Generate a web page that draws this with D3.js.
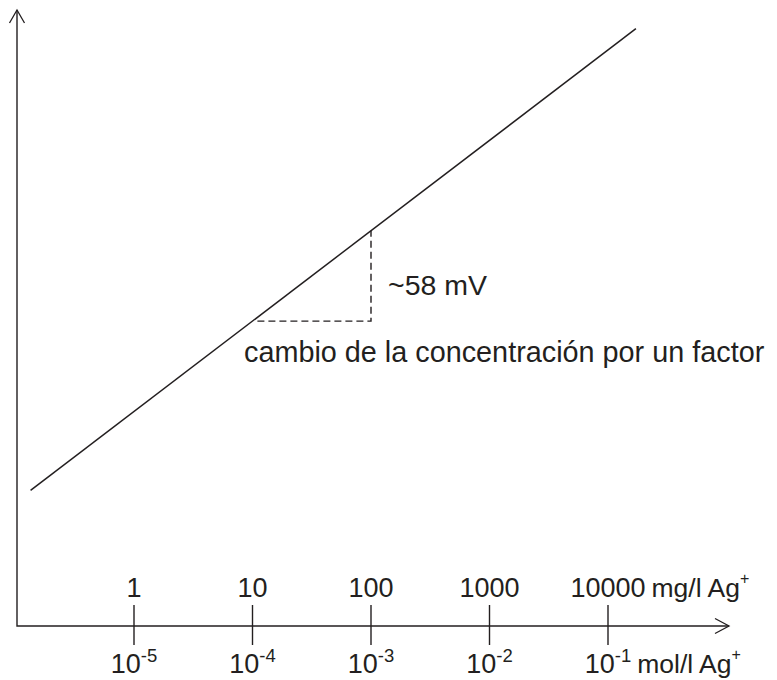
<!DOCTYPE html>
<html>
<head>
<meta charset="utf-8">
<script src="https://cdn.jsdelivr.net/npm/d3@7"></script>
<style>
  html, body { margin: 0; padding: 0; background: #fff; }
  text { font-family: "Liberation Sans", Arial, Helvetica, sans-serif; fill: #231f20; }
</style>
</head>
<body>
<script>
// Silver electrode potential vs. Ag+ concentration (Nernst slope ~58 mV per decade)
const molExponents = [-5, -4, -3, -2, -1];           // mol/l ticks: 10^e
const mgLabels = ["1", "10", "100", "1000", "10000"]; // matching mg/l values
const lineConc = [1.34e-6, 0.172];                    // mol/l at line ends
const linePotential = [87, 383];                      // mV at line ends
const stepConc = [1.1e-4, 1e-3];                      // one-decade step
const stepPotential = [195.5, 253.5];                 // potential before / after the step

const W = 777, H = 680;
const ink = "#231f20";

const svg = d3.select("body").append("svg")
  .attr("width", W).attr("height", H);

const x = d3.scaleLog().domain([1e-5, 1e-1]).range([134, 608]);
const y = d3.scaleLinear().domain([0, 395]).range([626, 10]);

const x0 = 17, axisY = y(0);
const xEnd = 729;

// axes with open arrowheads
svg.append("path")
  .attr("d", `M${x0},${y(395)} V${axisY} H${xEnd}`)
  .attr("fill", "none").attr("stroke", ink).attr("stroke-width", 1.4);
svg.append("path")
  .attr("d", `M${x0 - 7.5},${y(395) + 13} L${x0},${y(395)} L${x0 + 7.5},${y(395) + 13}`)
  .attr("fill", "none").attr("stroke", ink).attr("stroke-width", 1.3);
svg.append("path")
  .attr("d", `M${xEnd - 14},${axisY - 7.5} L${xEnd},${axisY} L${xEnd - 14},${axisY + 7.5}`)
  .attr("fill", "none").attr("stroke", ink).attr("stroke-width", 1.3);

// ticks crossing the x axis
const tickVals = molExponents.map(e => Math.pow(10, e));
svg.selectAll("line.tick").data(tickVals).enter().append("line")
  .attr("class", "tick")
  .attr("x1", d => x(d)).attr("x2", d => x(d))
  .attr("y1", axisY - 21).attr("y2", axisY + 19)
  .attr("stroke", ink).attr("stroke-width", 1.4);

// mg/l labels above the axis
const topLabels = svg.selectAll("text.mg").data(mgLabels).enter().append("text")
  .attr("class", "mg")
  .attr("x", (d, i) => x(tickVals[i]))
  .attr("y", 597)
  .attr("text-anchor", "middle")
  .attr("font-size", 27)
  .text(d => d);

// mol/l labels below the axis
const botLabels = svg.selectAll("text.mol").data(molExponents).enter().append("text")
  .attr("class", "mol")
  .attr("x", (d, i) => x(tickVals[i]))
  .attr("y", 673)
  .attr("text-anchor", "middle")
  .attr("font-size", 27);
botLabels.append("tspan").text("10");
botLabels.append("tspan").attr("font-size", 18.5).attr("dy", -11).text(d => String(d));

// unit suffixes after the last labels
function unitAfter(node, baseY, unit) {
  const bb = node.getBBox();
  const t = svg.append("text")
    .attr("x", bb.x + bb.width + 6).attr("y", baseY)
    .attr("font-size", 26.5);
  t.append("tspan").text(unit);
  t.append("tspan").attr("font-size", 16).attr("dy", -13).text("+");
}
unitAfter(topLabels.nodes()[4], 597, "mg/l Ag");
unitAfter(botLabels.nodes()[4], 673, "mol/l Ag");

// electrode response line
const pts = lineConc.map((c, i) => [c, linePotential[i]]);
svg.append("path")
  .attr("d", d3.line().x(d => x(d[0])).y(d => y(d[1]))(pts))
  .attr("fill", "none").attr("stroke", ink).attr("stroke-width", 1.5);

// dashed step: one decade across, ~58 mV up
const step = [
  [stepConc[0], stepPotential[0]],
  [stepConc[1], stepPotential[0]],
  [stepConc[1], stepPotential[1]]
];
svg.append("path")
  .attr("d", d3.line().x(d => x(d[0])).y(d => y(d[1]))(step))
  .attr("fill", "none").attr("stroke", ink).attr("stroke-width", 1.4)
  .attr("stroke-dasharray", "7,4");

svg.append("text")
  .attr("x", x(stepConc[1]) + 17).attr("y", 295)
  .attr("font-size", 28.5)
  .text("~" + Math.round(stepPotential[1] - stepPotential[0]) + " mV");

svg.append("text")
  .attr("x", 244).attr("y", 362)
  .attr("font-size", 28.8)
  .text("cambio de la concentración por un factor");
</script>
</body>
</html>
